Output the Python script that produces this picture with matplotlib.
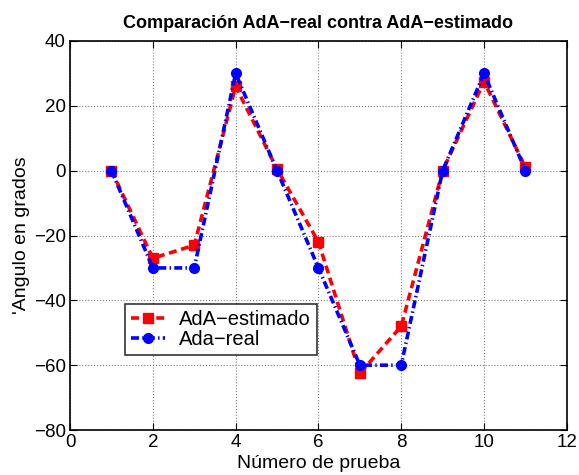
import matplotlib.pyplot as plt

plt.rcParams['font.family'] = ['Liberation Sans', 'DejaVu Sans']

prueba = [1, 2, 3, 4, 5, 6, 7, 8, 9, 10, 11]
ada_estimado = [0, -27, -23, 26, 0.5, -22, -62.5, -48, 0, 27.5, 1]
ada_real = [0, -30, -30, 30, 0, -30, -60, -60, 0, 30, 0]
yticks = list(range(-80, 41, 20))

fig = plt.figure(figsize=(5.79, 4.75), dpi=100)
ax = fig.add_axes([0.121, 0.0947, 0.858, 0.819])

ax.plot(prueba, ada_estimado, color='red', linestyle=(0, (2.2, 1.3)), linewidth=2.6,
        marker='s', markersize=7, label='AdA\u2212estimado')
ax.plot(prueba, ada_real, color='blue', linestyle=(0, (2.2, 0.9, 0.4, 0.9)), linewidth=2.6,
        marker='o', markersize=7, label='Ada\u2212real')

ax.set_xlim(0, 12)
ax.set_ylim(-80, 40)
ax.set_xticks(range(0, 13, 2))
ax.set_yticks(yticks)
ax.set_yticklabels([str(v).replace('-', '\u2212') for v in yticks])
ax.tick_params(direction='in', top=True, right=True, labelsize=13.5, length=5, pad=3)
ax.grid(True, linestyle=':', color='gray', linewidth=0.8)
for s in ax.spines.values():
    s.set_linewidth(1.2)

ax.set_title('Comparación AdA\u2212real contra AdA\u2212estimado', fontsize=13,
             fontweight='bold', pad=9)
ax.set_xlabel('Número de prueba', fontsize=14, labelpad=3)
ax.set_ylabel("'Angulo en grados", fontsize=14, labelpad=3)

leg = ax.legend(loc='lower left', bbox_to_anchor=(0.11, 0.193), fontsize=14.5,
                frameon=True, fancybox=False, edgecolor='black',
                borderpad=0.3, labelspacing=0.05, handlelength=1.7,
                handletextpad=0.7, borderaxespad=0)
leg.get_frame().set_linewidth(1.2)

fig.savefig('out.png', dpi=100)
